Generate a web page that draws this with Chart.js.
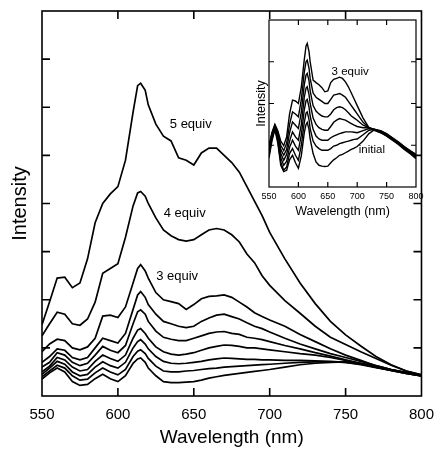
<!DOCTYPE html>
<html>
<head>
<meta charset="utf-8">
<script src="https://cdn.jsdelivr.net/npm/chart.js@4.4.1/dist/chart.umd.min.js"></script>
<style>
  html, body { margin: 0; padding: 0; background: #fff; }
  #wrap { position: relative; width: 444px; height: 449px; }
  #wrap canvas { position: absolute; left: 0; top: 0; }
</style>
</head>
<body>
<div id="wrap">
  <canvas id="mainChart" width="444" height="449"></canvas>
  <canvas id="insetChart" width="444" height="449"></canvas>
</div>
<script>
// wavelength grid (nm), shared by every spectrum
const wavelengths = [550,555,560,565,570,575,580,585,590,595,600,605,610,613,615,618,620,625,630,635,640,645,650,655,660,665,670,675,680,685,690,695,700,710,720,730,740,750,760,770,780,790,800];
const xTicks = [550, 600, 650, 700, 750, 800];

// main panel: initial -> 3 equiv, then 4 and 5 equiv
const specInitial = [0.35,0.48,0.58,0.5,0.3,0.22,0.24,0.36,0.45,0.36, 0.3,0.42,0.68,0.77,0.79,0.7,0.58,0.42,0.3,0.28, 0.28,0.29,0.3,0.33,0.37,0.4,0.43,0.45,0.47,0.49, 0.51,0.53,0.55,0.6,0.65,0.68,0.7,0.71,0.68,0.62, 0.55,0.49,0.43];
const spec05 = [0.4,0.52,0.64,0.58,0.42,0.33,0.35,0.48,0.58,0.5, 0.44,0.55,0.82,0.93,0.96,0.88,0.78,0.62,0.52,0.5, 0.5,0.52,0.53,0.55,0.57,0.58,0.6,0.61,0.62,0.63, 0.64,0.65,0.66,0.68,0.7,0.71,0.71,0.7,0.66,0.6, 0.54,0.48,0.43];
const spec10 = [0.45,0.58,0.72,0.66,0.5,0.42,0.45,0.6,0.71,0.63, 0.58,0.7,1.0,1.13,1.17,1.08,0.98,0.82,0.72,0.68, 0.67,0.68,0.7,0.72,0.75,0.77,0.79,0.78,0.77,0.76, 0.76,0.75,0.75,0.74,0.74,0.73,0.72,0.7,0.65,0.59, 0.53,0.47,0.42];
const spec15 = [0.5,0.62,0.8,0.75,0.6,0.52,0.55,0.72,0.85,0.78, 0.72,0.85,1.2,1.37,1.4,1.3,1.2,1.02,0.92,0.87, 0.85,0.87,0.9,0.95,1.0,1.03,1.06,1.05,1.03,1.0, 1.0,0.98,0.96,0.92,0.88,0.85,0.8,0.74,0.67,0.6, 0.53,0.47,0.42];
const spec20 = [0.6,0.7,0.9,0.85,0.7,0.63,0.68,0.85,1.03,0.95, 0.9,1.05,1.5,1.75,1.79,1.7,1.55,1.35,1.22,1.18, 1.15,1.15,1.2,1.25,1.3,1.33,1.34,1.3,1.28,1.22, 1.2,1.17,1.13,1.05,0.98,0.9,0.83,0.75,0.68,0.6, 0.53,0.47,0.42];
const spec25 = [0.7,0.82,0.98,0.95,0.8,0.75,0.8,1.0,1.2,1.15, 1.1,1.3,1.8,2.1,2.17,2.05,1.9,1.7,1.55,1.5, 1.45,1.42,1.45,1.55,1.62,1.68,1.7,1.65,1.6,1.52, 1.45,1.4,1.33,1.2,1.08,0.98,0.88,0.8,0.72,0.63, 0.55,0.48,0.42];
const spec3eq = [0.92,1.08,1.18,1.15,1.0,0.96,1.02,1.2,1.66,1.68, 1.63,1.85,2.35,2.65,2.73,2.6,2.45,2.15,2.0,1.96, 1.92,1.8,1.9,2.02,2.07,2.08,2.1,2.05,1.95,1.85, 1.73,1.65,1.58,1.45,1.28,1.13,0.98,0.85,0.74,0.63, 0.55,0.48,0.42];
const spec4eq = [1.25,1.5,1.74,1.7,1.5,1.47,1.6,1.95,2.55,2.65, 2.75,3.3,3.95,4.22,4.25,4.15,4.0,3.7,3.45,3.33, 3.25,3.22,3.25,3.35,3.45,3.48,3.45,3.35,3.2,2.95, 2.77,2.5,2.3,1.98,1.72,1.45,1.22,1.07,0.92,0.78, 0.64,0.52,0.44];
const spec5eq = [1.48,1.96,2.45,2.47,2.25,2.35,2.85,3.6,4.0,4.2, 4.35,4.9,5.9,6.45,6.5,6.35,6.05,5.65,5.4,5.3, 4.95,4.9,4.8,5.05,5.15,5.15,5.0,4.85,4.65,4.35, 4.05,3.75,3.4,2.85,2.35,1.92,1.55,1.27,1.04,0.82, 0.65,0.52,0.44];

// inset panel: normalised spectra, initial -> 3 equiv
const insInitial = [0.7,1.1,1.38,1.05,0.52,0.37,0.4,0.65,0.76,0.58, 0.45,0.75,1.3,1.5,1.55,1.38,1.15,0.8,0.6,0.52, 0.5,0.49,0.5,0.58,0.65,0.7,0.76,0.78,0.82,0.86, 0.9,0.93,0.97,1.1,1.28,1.38,1.35,1.28,1.18,1.08, 0.97,0.87,0.78];
const ins05 = [0.75,1.15,1.4,1.1,0.6,0.4,0.48,0.8,0.92,0.76, 0.64,1.0,1.55,1.77,1.8,1.62,1.4,1.1,0.98,0.92, 0.88,0.88,0.88,0.92,0.98,1.0,1.04,1.06,1.08,1.1, 1.12,1.14,1.15,1.25,1.36,1.38,1.34,1.27,1.17,1.07, 0.96,0.86,0.77];
const ins10 = [0.8,1.2,1.42,1.15,0.7,0.52,0.62,0.95,1.12,0.98, 0.88,1.25,1.85,2.07,2.1,1.92,1.7,1.38,1.22,1.15, 1.12,1.12,1.12,1.18,1.22,1.25,1.28,1.3,1.32,1.32, 1.32,1.31,1.3,1.35,1.4,1.38,1.33,1.26,1.16,1.06, 0.95,0.85,0.76];
const ins15 = [0.85,1.22,1.44,1.2,0.8,0.64,0.78,1.1,1.32,1.2, 1.12,1.5,2.15,2.37,2.4,2.22,2.0,1.65,1.5,1.42, 1.38,1.36,1.36,1.45,1.55,1.6,1.64,1.62,1.6,1.56, 1.52,1.48,1.45,1.42,1.42,1.38,1.32,1.25,1.15,1.05, 0.94,0.84,0.74];
const ins20 = [0.9,1.25,1.46,1.25,0.9,0.76,0.9,1.3,1.56,1.48, 1.4,1.8,2.45,2.68,2.72,2.55,2.3,1.95,1.82,1.75, 1.7,1.68,1.68,1.75,1.85,1.9,1.92,1.9,1.85,1.78, 1.7,1.65,1.6,1.48,1.42,1.37,1.31,1.24,1.14,1.04, 0.93,0.83,0.72];
const ins25 = [0.95,1.28,1.48,1.3,1.0,0.87,1.05,1.5,1.8,1.75, 1.68,2.1,2.75,3.0,3.04,2.85,2.6,2.25,2.15,2.1, 2.05,2.0,2.0,2.1,2.2,2.22,2.24,2.2,2.15,2.05, 1.95,1.85,1.75,1.55,1.42,1.36,1.3,1.23,1.13,1.03, 0.92,0.82,0.7];
const ins3eq = [1.0,1.3,1.5,1.35,1.1,0.99,1.2,1.75,2.08,2.06, 2.0,2.4,3.05,3.38,3.44,3.25,3.0,2.56,2.5,2.45, 2.38,2.28,2.3,2.5,2.58,2.6,2.63,2.6,2.52,2.4, 2.25,2.1,1.95,1.65,1.42,1.35,1.3,1.22,1.12,1.02, 0.9,0.8,0.68];

// curve labels, anchored in data units
const mainLabels = [
  { text: '5 equiv', x: 648, y: 5.65 },
  { text: '4 equiv', x: 644, y: 3.79 },
  { text: '3 equiv', x: 639, y: 2.48 }
];
const insetLabels = [
  { text: '3 equiv', x: 688, y: 2.75 },
  { text: 'initial', x: 725, y: 0.89 }
];

const FONT = "'Liberation Sans', Arial, Helvetica, sans-serif";
Chart.defaults.font.family = FONT;
Chart.defaults.color = '#000';

function toPoints(values) {
  return wavelengths.map((w, i) => ({ x: w, y: values[i] }));
}

function lineSet(values, width) {
  return { data: toPoints(values), borderColor: '#000', borderWidth: width, pointRadius: 0, tension: 0, fill: false };
}

// box frame with inward ticks on all four sides + text labels
const framePlugin = {
  id: 'frame',
  beforeDraw(chart, args, opts) {
    if (!opts.fill) return;
    const { ctx, chartArea: a } = chart;
    ctx.save();
    ctx.fillStyle = opts.fill;
    ctx.fillRect(a.left, a.top, a.right - a.left, a.bottom - a.top);
    ctx.restore();
  },
  afterDraw(chart, args, opts) {
    const { ctx, chartArea: a, scales: { x, y } } = chart;
    const len = opts.tickLength;
    ctx.save();
    ctx.strokeStyle = '#000';
    ctx.lineWidth = opts.lineWidth;
    ctx.strokeRect(a.left, a.top, a.right - a.left, a.bottom - a.top);
    ctx.beginPath();
    x.ticks.forEach(t => {
      const px = x.getPixelForValue(t.value);
      if (px <= a.left + 1 || px >= a.right - 1) return;
      ctx.moveTo(px, a.bottom); ctx.lineTo(px, a.bottom - len);
      ctx.moveTo(px, a.top); ctx.lineTo(px, a.top + len);
    });
    y.ticks.forEach(t => {
      const py = y.getPixelForValue(t.value);
      if (py <= a.top + 1 || py >= a.bottom - 1) return;
      ctx.moveTo(a.left, py); ctx.lineTo(a.left + len, py);
      ctx.moveTo(a.right, py); ctx.lineTo(a.right - len, py);
    });
    ctx.stroke();
    ctx.fillStyle = '#000';
    ctx.font = opts.labelFont + 'px ' + FONT;
    ctx.textAlign = 'center';
    ctx.textBaseline = 'middle';
    (opts.labels || []).forEach(l => ctx.fillText(l.text, x.getPixelForValue(l.x), y.getPixelForValue(l.y)));
    ctx.restore();
  }
};

new Chart(document.getElementById('mainChart'), {
  type: 'line',
  data: {
    datasets: [specInitial, spec05, spec10, spec15, spec20, spec25, spec3eq, spec4eq, spec5eq].map(s => lineSet(s, 1.7))
  },
  plugins: [framePlugin],
  options: {
    responsive: false,
    animation: false,
    devicePixelRatio: 1,
    layout: { padding: { left: 0, top: 11, right: 13, bottom: 0 } },
    plugins: {
      legend: { display: false },
      tooltip: { enabled: false },
      frame: { tickLength: 8, lineWidth: 1.6, labelFont: 13, labels: mainLabels }
    },
    scales: {
      x: {
        type: 'linear', min: 550, max: 800,
        afterBuildTicks: s => { s.ticks = xTicks.map(v => ({ value: v })); },
        afterFit: s => { s.height = 53; },
        grid: { display: false, drawTicks: false },
        border: { display: false },
        ticks: { padding: 10, font: { size: 15 } },
        title: { display: true, text: 'Wavelength (nm)', font: { size: 19 }, padding: 0 }
      },
      y: {
        min: 0, max: 8,
        afterFit: s => { s.width = 42; },
        grid: { display: false, drawTicks: false },
        border: { display: false },
        ticks: { display: false, stepSize: 1 },
        title: { display: true, text: 'Intensity', font: { size: 20 }, padding: { top: 8, bottom: 0 } }
      }
    }
  }
});

new Chart(document.getElementById('insetChart'), {
  type: 'line',
  data: {
    datasets: [insInitial, ins05, ins10, ins15, ins20, ins25, ins3eq].map(s => lineSet(s, 1.4))
  },
  plugins: [framePlugin],
  options: {
    responsive: false,
    animation: false,
    devicePixelRatio: 1,
    layout: { padding: { left: 253, top: 20, right: 28, bottom: 230 } },
    plugins: {
      legend: { display: false },
      tooltip: { enabled: false },
      frame: { tickLength: 5, lineWidth: 1.2, labelFont: 11.5, labels: insetLabels, fill: '#fff' }
    },
    scales: {
      x: {
        type: 'linear', min: 550, max: 800,
        afterBuildTicks: s => { s.ticks = xTicks.map(v => ({ value: v })); },
        afterFit: s => { s.height = 32; },
        grid: { display: false, drawTicks: false },
        border: { display: false },
        ticks: { padding: 4, font: { size: 9 } },
        title: { display: true, text: 'Wavelength (nm)', font: { size: 12.5 }, padding: 0 }
      },
      y: {
        min: 0, max: 4,
        afterFit: s => { s.width = 16; },
        grid: { display: false, drawTicks: false },
        border: { display: false },
        ticks: { display: false, stepSize: 1 },
        title: { display: true, text: 'Intensity', font: { size: 12.5 }, padding: { top: 1, bottom: 0 } }
      }
    }
  }
});
</script>
</body>
</html>
